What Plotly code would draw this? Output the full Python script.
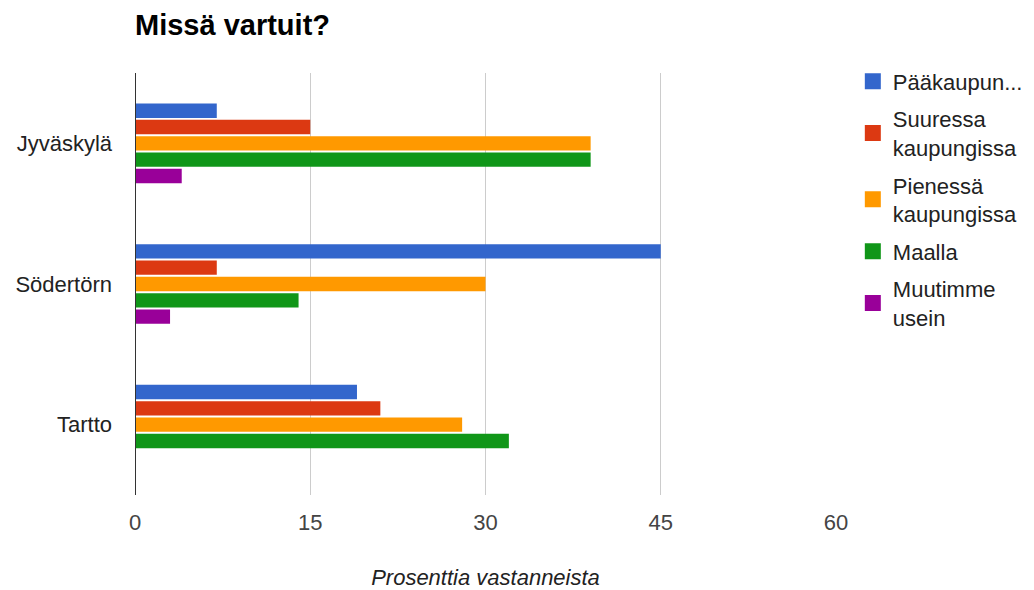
import plotly.graph_objects as go

categories = ["Jyväskylä", "Södertörn", "Tartto"]
series_names = ["Pääkaupun...", "Suuressa<br>kaupungissa", "Pienessä<br>kaupungissa", "Maalla", "Muutimme<br>usein"]
colors = ["#3366cc", "#dc3912", "#ff9900", "#109618", "#990099"]
paakaupunki = [7, 45, 19]
suuressa = [15, 7, 21]
pienessa = [39, 30, 28]
maalla = [39, 14, 32]
muutimme = [4, 3, 0]
values = [paakaupunki, suuressa, pienessa, maalla, muutimme]
x_ticks = [0, 15, 30, 45, 60]

fig = go.Figure()
for i, (name, col, vals) in enumerate(zip(series_names, colors, values)):
    fig.add_trace(go.Bar(y=categories, x=vals, name=name, orientation="h",
                         legendgroup=f"g{i}", showlegend=False,
                         marker=dict(color=col, line=dict(width=0))))
# legend entries with larger square symbols
for i, (name, col) in enumerate(zip(series_names, colors)):
    fig.add_trace(go.Scatter(x=[None], y=[None], mode="markers", name=name,
                             legendgroup=f"g{i}", showlegend=True,
                             marker=dict(symbol="square", size=16, color=col)))

font_family = "Liberation Sans, Arial, sans-serif"
fig.update_layout(
    width=1026, height=582,
    paper_bgcolor="white", plot_bgcolor="white",
    margin=dict(l=127, r=198, t=65, b=95, autoexpand=False),
    barmode="group", bargap=0.42, bargroupgap=0.12,
    title=dict(text="<b>Missä vartuit?</b>", x=127/1026, xanchor="left",
               y=1-17/582, yanchor="middle",
               font=dict(family=font_family, size=29, color="#000")),
    font=dict(family=font_family, size=22, color="#444"),
    xaxis=dict(range=[0, 60], tickvals=x_ticks, showgrid=True, gridcolor="#cccccc",
               gridwidth=1, zeroline=False, showline=False, ticks="",
               ticklabelstandoff=12, automargin=False,
               tickfont=dict(size=22, color="#444"),
               title=dict(text="<i>Prosenttia vastanneista</i>", font=dict(size=22, color="#222"),
                          standoff=35)),
    yaxis=dict(autorange="reversed", showgrid=False, zeroline=False, ticks="",
               showline=False, ticklabelstandoff=22, automargin=False,
               tickfont=dict(size=22, color="#222")),
    legend=dict(x=1.024, xanchor="left", y=1.03, yanchor="top",
                font=dict(size=22, color="#222"), tracegroupgap=6,
                itemsizing="trace", bgcolor="rgba(0,0,0,0)"),
    shapes=[dict(type="line", xref="x", yref="paper", x0=0, x1=0, y0=0, y1=1,
                 line=dict(color="#333333", width=2))],
)
fig.write_html("out.html")
